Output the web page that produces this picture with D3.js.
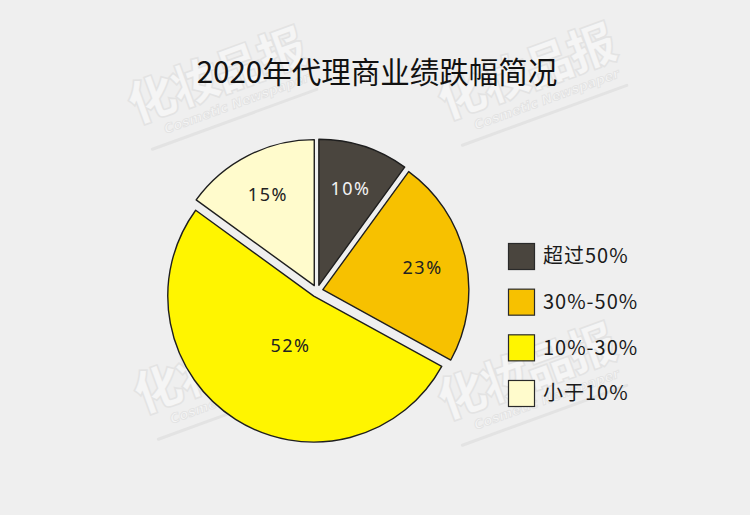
<!DOCTYPE html>
<html><head><meta charset="utf-8">
<script src="https://cdn.jsdelivr.net/npm/d3@7"></script>
<style>
html,body{margin:0;padding:0;background:#efefef;}
svg{display:block;font-family:"Noto Sans CJK SC","Noto Sans",sans-serif;}
</style></head>
<body>
<svg id="c" width="750" height="515"></svg>
<script>
const title = "2020年代理商业绩跌幅简况";
const categories = ["超过50%", "30%-50%", "10%-30%", "小于10%"];
const values = [10, 23, 52, 15];
const valueLabels = ["10%", "23%", "52%", "15%"];
const colors = ["#4a453e", "#f7c100", "#fff500", "#fffbcc"];
const labelColors = ["#f2f2f2", "#222", "#222", "#222"];
const watermarks = [[222, 92], [532, 88], [228, 382], [532, 388]];

const svg = d3.select("#c");
svg.append("rect").attr("width", 750).attr("height", 515).attr("fill", "#efefef");

// watermarks
const wm = svg.append("g");
watermarks.forEach(([x, y]) => {
  const g = wm.append("g").attr("transform", `translate(${x},${y}) rotate(-20)`);
  g.append("text").attr("text-anchor", "middle").attr("y", 0)
    .attr("font-size", 48).attr("font-weight", 900)
    .attr("fill", "#f5f5f5").attr("stroke", "#e3e3e3").attr("stroke-width", 1.5)
    .attr("letter-spacing", -2)
    .text("化妆品报");
  g.append("text").attr("text-anchor", "middle").attr("y", 20).attr("x", 10)
    .attr("font-size", 13).attr("font-weight", 700).attr("font-style", "italic")
    .attr("font-family", "DejaVu Sans")
    .attr("fill", "#f5f5f5").attr("stroke", "#e2e2e2").attr("stroke-width", 0.8)
    .text("Cosmetic Newspaper");
  g.append("line").attr("x1", -85).attr("x2", 90).attr("y1", 30).attr("y2", 30)
    .attr("stroke", "#e3e3e3").attr("stroke-width", 3).attr("stroke-linecap", "round");
});

// title
svg.append("text").attr("x", 377).attr("y", 83).attr("text-anchor", "middle")
  .attr("font-size", 29.5).attr("fill", "#111").text(title);

// pie
const cx = 317, cy = 291, R = 146, explode = 6;
const pie = d3.pie().sort(null).value(d => d)(values);
const arc = d3.arc().innerRadius(0).outerRadius(R);
const g = svg.append("g").attr("transform", `translate(${cx},${cy})`);
const slices = g.selectAll("g.s").data(pie).join("g").attr("class", "s")
  .attr("transform", d => {
    const a = (d.startAngle + d.endAngle) / 2;
    return `translate(${Math.sin(a) * explode},${-Math.cos(a) * explode})`;
  });
slices.append("path").attr("d", arc)
  .attr("fill", (d, i) => colors[i]).attr("stroke", "#1e1e1e").attr("stroke-width", 1.4)
  .attr("stroke-linejoin", "round");
slices.append("text")
  .attr("transform", (d, i) => {
    const r = d.value > 40 ? R * 0.4 : R * 0.7;
    const c = d3.arc().innerRadius(r).outerRadius(r).centroid(d);
    return `translate(${c[0] + (d.value > 40 ? 8 : 0)},${c[1]})`;
  })
  .attr("text-anchor", "middle").attr("dy", "0.36em")
  .attr("font-size", 18).attr("letter-spacing", 1.5)
  .attr("font-family", "Noto Sans")
  .attr("fill", (d, i) => labelColors[i])
  .text((d, i) => valueLabels[i]);

// legend
const ly = d3.scaleBand().domain(categories).range([243, 406]).paddingInner(0.43).paddingOuter(0);
const lg = svg.append("g");
categories.forEach((c, i) => {
  const y = ly(c);
  lg.append("rect").attr("x", 508.5).attr("y", y + 0.5).attr("width", 26).attr("height", ly.bandwidth())
    .attr("fill", colors[i]).attr("stroke", "#2a2a2a").attr("stroke-width", 1.2);
  lg.append("text").attr("x", 543).attr("y", y + ly.bandwidth() / 2).attr("dy", "0.36em")
    .attr("font-size", 20).attr("letter-spacing", 1).attr("fill", "#1a1a1a").text(c);
});
</script>
</body></html>
